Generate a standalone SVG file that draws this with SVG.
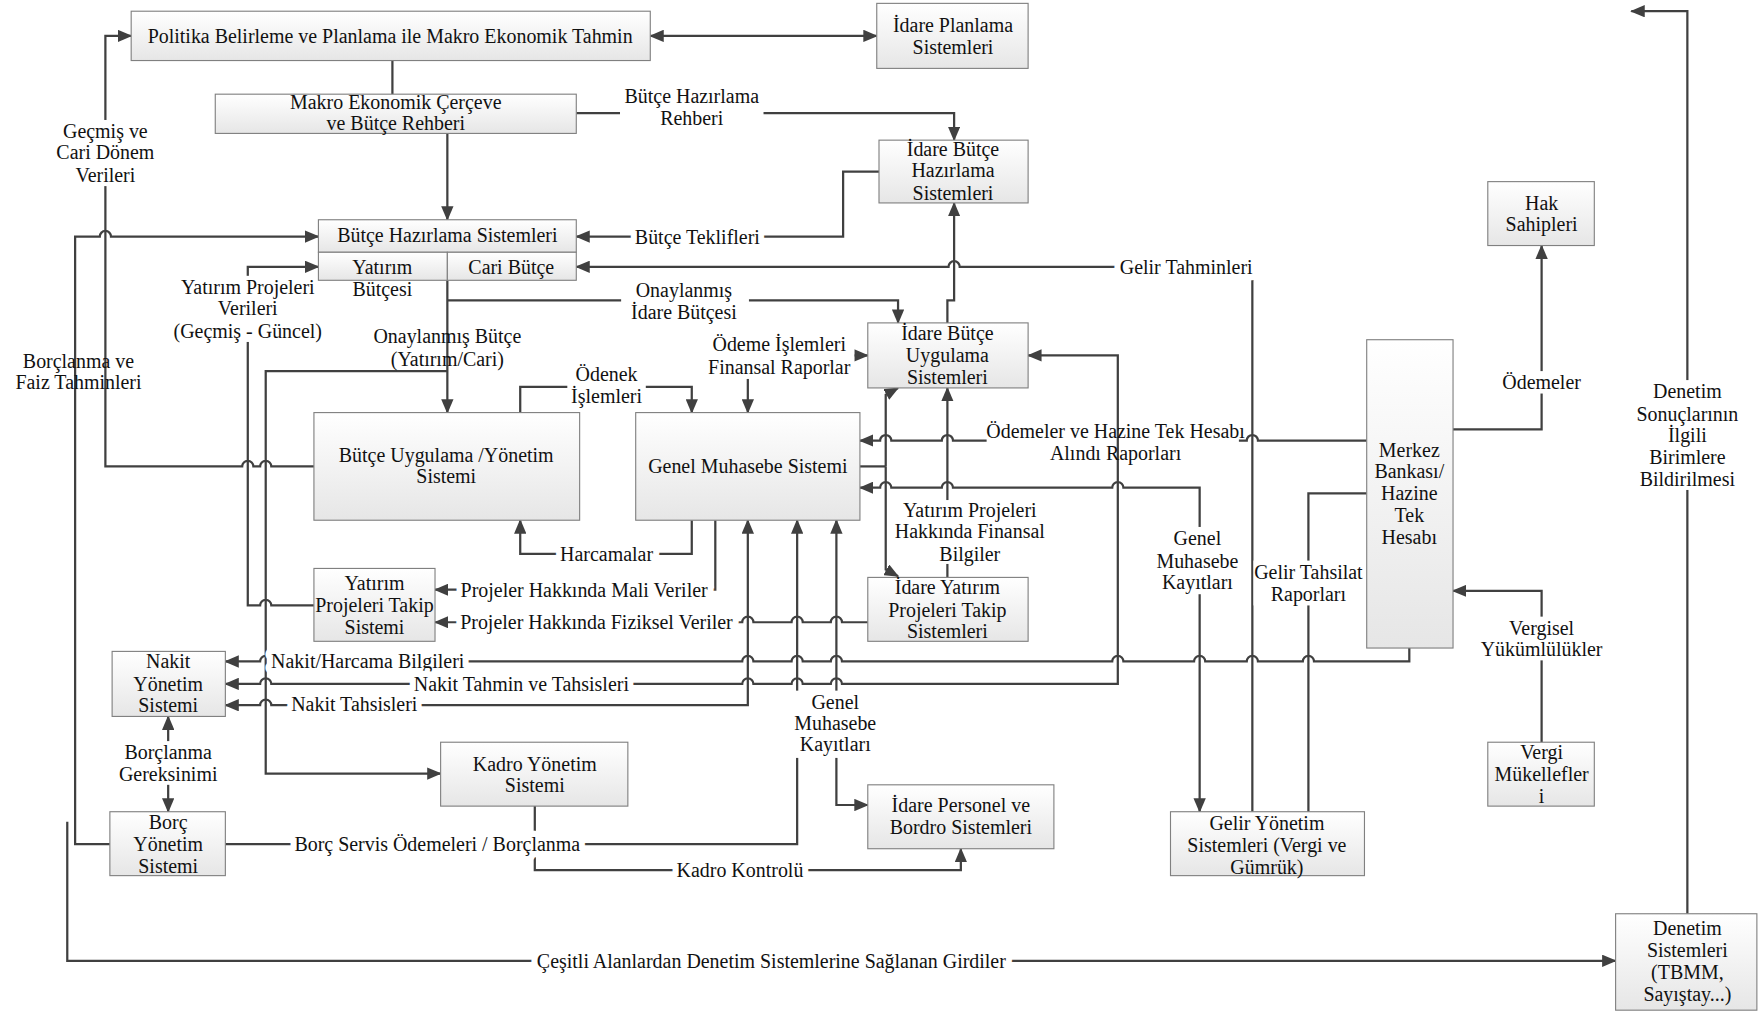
<svg xmlns="http://www.w3.org/2000/svg" width="1758" height="1011" viewBox="0 0 1758 1011">
<style>
.n rect{fill:url(#g);stroke:#808080;stroke-width:1}
text{font-family:"Liberation Serif","Times New Roman",serif;font-size:17.8px;fill:#111;text-anchor:middle;dominant-baseline:central}
.c path{fill:none;stroke:#404040;stroke-width:2}
.a{marker-end:url(#ar)}
.s{marker-start:url(#ar)}
.h{paint-order:stroke;stroke:#fff;stroke-width:11px;stroke-linejoin:round}
.bg{fill:#fff}
</style>
<defs>
<linearGradient id="g" x1="0" y1="0" x2="0" y2="1"><stop offset="0" stop-color="#ffffff"/><stop offset="1" stop-color="#e6e6e6"/></linearGradient>
<marker id="ar" viewBox="0 0 13 11" refX="12" refY="5.5" markerWidth="13" markerHeight="11" markerUnits="userSpaceOnUse" orient="auto-start-reverse"><path d="M0,0 L13,5.5 L0,11 z" fill="#404040"/></marker>
</defs>
<rect width="1758" height="1011" fill="#fff"/>
<g transform="scale(1.12117)">
<g id="connectors" class="c">
<path class="a s" d="M580,32 H782"/>
<path d="M350,54 V84"/>
<path class="a" d="M399,119 V196"/>
<path class="a" d="M514,101 H851 V125"/>
<path class="a" d="M784,153 H752 V211 H514"/>
<path class="a" d="M1117,724 V238 H856 a5,5 0 0 0 -10,0 H514"/>
<path class="a" d="M845,288 V268 H851 V181"/>
<path class="a" d="M399,268 H801 V288"/>
<path class="a" d="M399,250 V368"/>
<path class="a" d="M399,331 H237 V690 H393"/>
<path class="a" d="M280,416 H242 a5,5 0 0 0 -10,0 H226 a5,5 0 0 0 -10,0 H94 V32 H117"/>
<path class="a" d="M280,540 H242 a5,5 0 0 0 -10,0 H221 V238 H284"/>
<path class="a" d="M98,753 H67 V211 H89 a5,5 0 0 1 10,0 H284"/>
<path class="a" d="M60,733 V857 H1441"/>
<path class="a" d="M1505,815 V10 H1455"/>
<path class="a" d="M1296,383 H1375 V219"/>
<path class="a" d="M1375,662 V527 H1296"/>
<path d="M1219,393 H1122 a5,5 0 0 0 -10,0 H1105"/>
<path class="a" d="M880,393 H850 a5,5 0 0 0 -10,0 H795 a5,5 0 0 0 -10,0 H767"/>
<path class="a s" d="M767,435 H785 a5,5 0 0 1 10,0 H840 a5,5 0 0 1 10,0 H992 a5,5 0 0 1 10,0 H1070 V724"/>
<path d="M1219,440 H1167 V724"/>
<path class="a" d="M1257,578 V590 H1172 a5,5 0 0 0 -10,0 H1122 a5,5 0 0 0 -10,0 H1075 a5,5 0 0 0 -10,0 H1002 a5,5 0 0 0 -10,0 H751 a5,5 0 0 0 -10,0 H716 a5,5 0 0 0 -10,0 H672 a5,5 0 0 0 -10,0 H242 a5,5 0 0 0 -10,0 H201"/>
<path class="a s" d="M201,610 H232 a5,5 0 0 1 10,0 H662 a5,5 0 0 1 10,0 H706 a5,5 0 0 1 10,0 H741 a5,5 0 0 1 10,0 H997 V317 H917"/>
<path class="a s" d="M201,629 H232 a5,5 0 0 1 10,0 H667 V464"/>
<path class="a s" d="M150,639 V724"/>
<path class="a" d="M477,719 V776 H857 V757"/>
<path class="a" d="M201,753 H711 V464"/>
<path class="a s" d="M746,464 V718 H774"/>
<path class="a" d="M774,555 H751 a5,5 0 0 0 -10,0 H716 a5,5 0 0 0 -10,0 H672 a5,5 0 0 0 -10,0 H388"/>
<path class="a" d="M638,464 V526 H388"/>
<path class="a" d="M617,464 V494 H464 V464"/>
<path class="a" d="M464,368 V345 H617 V368"/>
<path class="a" d="M667,338 V368"/>
<path class="a" d="M760,317 H774"/>
<path d="M767,416 H790"/>
<path class="a" d="M790,416 V352 L801,346"/>
<path class="a" d="M790,416 V508 L801,514"/>
<path class="a" d="M845,515 V346"/>
</g>
<g id="labels">
<rect class="bg" x="553" y="76" width="128" height="40"/>
<text x="617" y="86">Bütçe Hazırlama</text><text x="617" y="105">Rehberi</text>
<text class="h" x="622" y="211">Bütçe Teklifleri</text>
<text class="h" x="1058" y="238">Gelir Tahminleri</text>
<rect class="bg" x="554" y="249" width="114" height="39"/>
<text x="610" y="259">Onaylanmış</text><text x="610" y="278">İdare Bütçesi</text>
<text x="399" y="300">Onaylanmış Bütçe</text><text x="399" y="320">(Yatırım/Cari)</text>
<rect class="bg" x="48" y="107" width="92" height="59"/>
<text x="94" y="117">Geçmiş ve</text><text x="94" y="136">Cari Dönem</text><text x="94" y="156">Verileri</text>
<rect class="bg" x="156" y="246" width="130" height="59"/>
<text x="221" y="256">Yatırım Projeleri</text><text x="221" y="275">Verileri</text><text x="221" y="295">(Geçmiş - Güncel)</text>
<text x="70" y="322">Borçlanma ve</text><text x="70" y="341">Faiz Tahminleri</text>
<rect class="bg" x="506" y="324" width="70" height="39"/>
<text x="541" y="334">Ödenek</text><text x="541" y="353">İşlemleri</text>
<rect class="bg" x="628" y="297" width="134" height="40"/>
<text x="695" y="307">Ödeme İşlemleri</text><text x="695" y="327">Finansal Raporlar</text>
<text x="995" y="384">Ödemeler ve Hazine Tek Hesabı</text><text x="995" y="404">Alındı Raporları</text>
<rect class="bg" x="798" y="446" width="134" height="57"/>
<text x="865" y="455">Yatırım Projeleri</text><text x="865" y="474">Hakkında Finansal</text><text x="865" y="494">Bilgiler</text>
<rect class="bg" x="1028" y="470" width="80" height="60"/>
<text x="1068" y="480">Genel</text><text x="1068" y="500">Muhasebe</text><text x="1068" y="519">Kayıtları</text>
<rect class="bg" x="1118" y="500" width="98" height="40"/>
<text x="1167" y="510">Gelir Tahsilat</text><text x="1167" y="530">Raporları</text>
<rect class="bg" x="1336" y="331" width="78" height="20"/>
<text x="1375" y="341">Ödemeler</text>
<rect class="bg" x="1453" y="339" width="104" height="98"/>
<text x="1505" y="349">Denetim</text><text x="1505" y="369">Sonuçlarının</text><text x="1505" y="388">İlgili</text><text x="1505" y="408">Birimlere</text><text x="1505" y="427">Bildirilmesi</text>
<rect class="bg" x="1316" y="550" width="118" height="39"/>
<text x="1375" y="560">Vergisel</text><text x="1375" y="579">Yükümlülükler</text>
<text class="h" x="541" y="494">Harcamalar</text>
<text class="h" x="521" y="526">Projeler Hakkında Mali Veriler</text>
<text class="h" x="532" y="555">Projeler Hakkında Fiziksel Veriler</text>
<text class="h" x="328" y="590">Nakit/Harcama Bilgileri</text>
<text class="h" x="465" y="610">Nakit Tahmin ve Tahsisleri</text>
<text class="h" x="316" y="628">Nakit Tahsisleri</text>
<rect class="bg" x="706" y="616" width="80" height="60"/>
<text x="745" y="626">Genel</text><text x="745" y="645">Muhasebe</text><text x="745" y="664">Kayıtları</text>
<rect class="bg" x="102" y="661" width="96" height="39"/>
<text x="150" y="671">Borçlanma</text><text x="150" y="690">Gereksinimi</text>
<text class="h" x="390" y="753">Borç Servis Ödemeleri / Borçlanma</text>
<text class="h" x="660" y="776">Kadro Kontrolü</text>
<text class="h" x="688" y="857">Çeşitli Alanlardan Denetim Sistemlerine Sağlanan Girdiler</text>
</g>
<g id="politika" class="n"><rect x="117" y="10" width="463" height="44"/><text x="348" y="32">Politika Belirleme ve Planlama ile Makro Ekonomik Tahmin</text></g>
<g id="idare-planlama" class="n"><rect x="782" y="3" width="135" height="58"/><text x="850" y="22">İdare Planlama</text><text x="850" y="42">Sistemleri</text></g>
<g id="makro" class="n"><rect x="192" y="84" width="322" height="35"/><text x="353" y="91">Makro Ekonomik Çerçeve</text><text x="353" y="110">ve Bütçe Rehberi</text></g>
<g id="idare-butce-hazirlama" class="n"><rect x="784" y="125" width="133" height="56"/><text x="850" y="133">İdare Bütçe</text><text x="850" y="152">Hazırlama</text><text x="850" y="172">Sistemleri</text></g>
<g id="butce-hazirlama" class="n"><rect x="284" y="196" width="230" height="29"/><text x="399" y="210">Bütçe Hazırlama Sistemleri</text>
<rect x="284" y="225" width="115" height="25"/><text x="341" y="238">Yatırım</text><text x="341" y="258">Bütçesi</text>
<rect x="399" y="225" width="115" height="25"/><text x="456" y="238">Cari Bütçe</text></g>
<g id="hak-sahipleri" class="n"><rect x="1327" y="162" width="95" height="57"/><text x="1375" y="181">Hak</text><text x="1375" y="200">Sahipleri</text></g>
<g id="idare-butce-uygulama" class="n"><rect x="774" y="288" width="143" height="58"/><text x="845" y="297">İdare Bütçe</text><text x="845" y="317">Uygulama</text><text x="845" y="336">Sistemleri</text></g>
<g id="butce-uygulama" class="n"><rect x="280" y="368" width="237" height="96"/><text x="398" y="406">Bütçe Uygulama /Yönetim</text><text x="398" y="425">Sistemi</text></g>
<g id="genel-muhasebe" class="n"><rect x="567" y="368" width="200" height="96"/><text x="667" y="416">Genel Muhasebe Sistemi</text></g>
<g id="merkez-bankasi" class="n"><rect x="1219" y="303" width="77" height="275"/><text x="1257" y="401">Merkez</text><text x="1257" y="420">Bankası/</text><text x="1257" y="440">Hazine</text><text x="1257" y="459">Tek</text><text x="1257" y="479">Hesabı</text></g>
<g id="yatirim-projeleri-takip" class="n"><rect x="280" y="507" width="108" height="65"/><text x="334" y="520">Yatırım</text><text x="334" y="540">Projeleri Takip</text><text x="334" y="559">Sistemi</text></g>
<g id="idare-yatirim-takip" class="n"><rect x="774" y="515" width="143" height="57"/><text x="845" y="524">İdare Yatırım</text><text x="845" y="544">Projeleri Takip</text><text x="845" y="563">Sistemleri</text></g>
<g id="nakit-yonetim" class="n"><rect x="100" y="581" width="101" height="58"/><text x="150" y="590">Nakit</text><text x="150" y="610">Yönetim</text><text x="150" y="629">Sistemi</text></g>
<g id="kadro-yonetim" class="n"><rect x="393" y="662" width="167" height="57"/><text x="477" y="681">Kadro Yönetim</text><text x="477" y="700">Sistemi</text></g>
<g id="idare-personel" class="n"><rect x="774" y="700" width="166" height="57"/><text x="857" y="718">İdare Personel ve</text><text x="857" y="738">Bordro Sistemleri</text></g>
<g id="borc-yonetim" class="n"><rect x="98" y="724" width="103" height="57"/><text x="150" y="733">Borç</text><text x="150" y="753">Yönetim</text><text x="150" y="772">Sistemi</text></g>
<g id="gelir-yonetim" class="n"><rect x="1044" y="724" width="173" height="57"/><text x="1130" y="734">Gelir Yönetim</text><text x="1130" y="754">Sistemleri (Vergi ve</text><text x="1130" y="773">Gümrük)</text></g>
<g id="vergi-mukellefleri" class="n"><rect x="1327" y="662" width="95" height="57"/><text x="1375" y="671">Vergi</text><text x="1375" y="690">Mükellefler</text><text x="1375" y="710">i</text></g>
<g id="denetim-sistemleri" class="n"><rect x="1441" y="815" width="126" height="86"/><text x="1505" y="828">Denetim</text><text x="1505" y="847">Sistemleri</text><text x="1505" y="867">(TBMM,</text><text x="1505" y="887">Sayıştay...)</text></g>
</g>
</svg>
